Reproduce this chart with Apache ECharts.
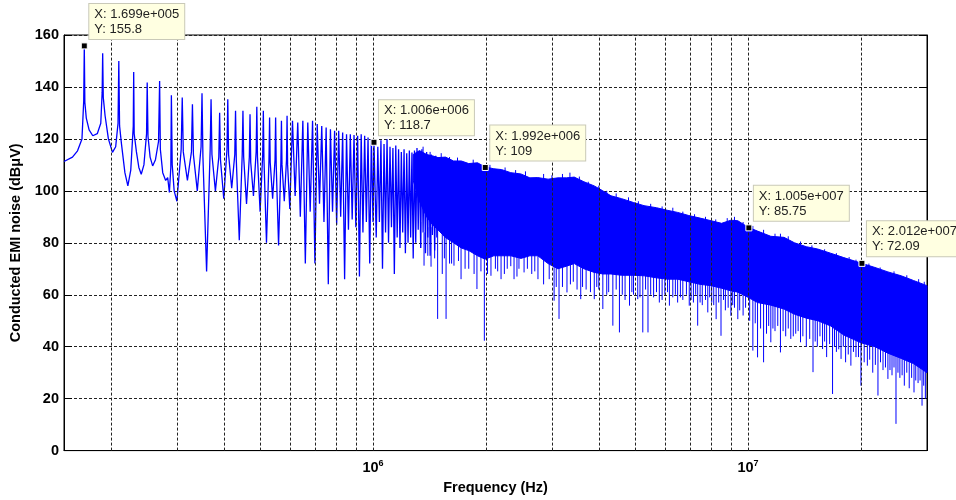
<!DOCTYPE html>
<html><head><meta charset="utf-8">
<script src="https://cdn.jsdelivr.net/npm/echarts@6/dist/echarts.min.js"></script>
<style>html,body{margin:0;padding:0;background:#fff}#c{width:956px;height:500px}</style>
</head><body><div id="c"></div>
<script>
// ---- data (frequency in Hz, level in dBuV) ----
// first resolved harmonics (with their resonance shoulders)
const lowFreq = [150000,158000,163000,167500,169300,169900,170500,172000,175000,179000,184000,188000,189600,190200,190900,193000,197000,202000,206000,209000,210000,211000,213500,218000,222000,226000,229500,230100,230800,234000,237500,241000,245000,249000,250000,251200,254500,258500,263000,268000,269800,271000,275000,280000,283500,286500,289000,290000,291500,295000];
const lowVal  = [111.3,113,115.4,120,134.6,155.8,134,128,123.5,121.2,122,126,138,153,136,129,120,114.8,117,126,150,125,118,107,101.9,108,125,145.8,122,115,109,106.4,110,122,141.7,121,113,109.6,112,119,142.3,116,107,104,105.1,99.4,109,136.8,110,100];
// harmonic peaks
const peakFreq = [310000,330000,350000,370000,390000,410000,430000,450000,470000,490000,510000,530000,550000,570000,590000,610000,630000,650000,670000,690000,710000,730000,750000,770000,790000,810000,830000,850000,870000,890000,910000,930000,950000,970000,990000,1006000,1030000,1050000,1070000,1090000,1110000,1130000,1150000,1170000,1190000,1210000,1230000,1250000,1270000,1290000,1310000,1330000,1350000,1370000,1390000,1410000,1430000,1450000,1470000,1490000];
const peakVal  = [135.9,133.3,137.6,135.3,130.1,135.3,130.8,130.8,129.5,132.4,130.8,128.2,128.2,127,128.9,127,126.3,127,126.3,127,125.7,125,124.4,123.7,123.1,123.1,122.5,121.8,121.8,121.5,121.2,121.8,121.2,120.5,120,118.7,117,119.5,118,119.9,117,116.5,117.5,116,115,116,114.5,115.5,114.8,115.5,116.5,115,116,114.5,115,113.5,114,113,113.5,112.8];
// resonance shoulders beside the first harmonics
const shoulderFreq = [308000,312000,328000,332000,348000,352000,368000,372000,388000,392000,408000,412000,428000,432000,448000,452000,468000,472000,488000,492000,508000,512000,528000,532000,548000,552000,568000,572000,588000,592000];
const shoulderVal  = [116,115,115,114,117,113,116,114,113,112,116,114,114,112,114,113,113,111,115,113,114,112,112,111,112,110,111,110,112,110];
// valleys between harmonics
const valleyFreq = [300000,320000,340000,360000,380000,400000,420000,440000,460000,480000,500000,520000,540000,560000,580000,600000,620000,640000,660000,680000,700000,720000,740000,760000,780000,800000,820000,840000,860000,880000,900000,920000,940000,960000,980000,1000000,1020000,1040000,1060000,1080000,1100000,1120000,1140000,1160000,1180000,1200000,1220000,1240000,1260000,1280000,1300000,1320000,1340000,1360000,1380000,1400000,1420000,1440000,1460000,1480000];
const valleyVal  = [96,104,100,69,100,97,101,81,95,98,92,80,97,79,96,93,98,90,72,92,72,95,88,64,92,87,90,66,85,89,86,67,84,88,72,88,82,88,70,84,80,86,68,82,78,84,76,80,82,74,80,85,78,84,76,82,75,83,77,82];
// dense (unresolved) spectrum: upper envelope and lower edge of the solid band
const bandFreq  = [1280e3,1330e3,1390e3,1440e3,1490e3,1560e3,1640e3,1720e3,1800e3,1900e3,1990e3,2100e3,2200e3,2330e3,2480e3,2620e3,2750e3,2930e3,3110e3,3280e3,3440e3,3650e3,3890e3,4100e3,4310e3,4600e3,4950e3,5280e3,5700e3,6100e3,6490e3,6950e3,7450e3,7970e3,8500e3,9000e3,9390e3,10000e3,10600e3,11500e3,12470e3,13300e3,14300e3,15340e3,16600e3,18000e3,20000e3,21800e3,23600e3,25600e3,27600e3,30000e3];
const bandTop   = [114,115.5,114,113.5,112.8,113,111.5,111.5,110.5,110.8,109.2,108.5,108.2,107,106.5,105,105.1,104.5,105,105,105.3,103.5,101.9,100,98.1,97,95.5,94.3,93.5,92.5,91.7,90.5,89.5,88.5,87.5,88.7,88.5,86,84.5,82.5,82.1,80,78.5,77.6,76,74.3,72.2,70.5,68.8,67.3,65.5,63.5];
const bandFloor = [104,96,90,87,85,82,80,78,77,75,73.7,75,75,75,74,75,75,72,70,71,72,70,68.6,68,68,67.5,67.5,67.3,66.5,66,66,65,64,63.5,62.5,61.5,61,59,57,56,54.5,52.5,51,50,48,44.5,41.5,40,37.5,35.5,33.5,30];
// deep individual notches below the dense band
const spikeFreq = [1368e3,1428e3,1487e3,1530e3,1566e3,1600e3,1644e3,1717e3,1760e3,1893e3,1981e3,2063e3,2150e3,2195e3,2280e3,2377e3,2450e3,2528e3,2650e3,2753e3,2850e3,3040e3,3133e3,3200e3,3290e3,3420e3,3580e3,3700e3,3890e3,4000e3,4100e3,4200e3,4360e3,4540e3,4700e3,4830e3,4950e3,5080e3,5240e3,5410e3,5600e3,5800e3,6000e3,6170e3,6300e3,6490e3,6700e3,6970e3,7150e3,7340e3,7550e3,7810e3,8000e3,8220e3,8470e3,8700e3,9000e3,9200e3,9390e3,9700e3,10300e3,10600e3,11000e3,11200e3,11500e3,11800e3,12200e3,12600e3,13000e3,13400e3,13800e3,14300e3,14900e3,15300e3,15800e3,16200e3,16800e3,17200e3,17700e3,18200e3,18800e3,19400e3,20000e3,20800e3,21500e3,22200e3,22900e3,23600e3,24200e3,24800e3,25400e3,26100e3,26900e3,27700e3,28400e3,29100e3,29700e3];
const spikeHi = [84,86,86,84,83,82,81,80,79,77,76,77,77,77,77,77,76,77,77,77,75,73,73,73,74,74,73,72,71,70,70,70,70,70,69,69,69,69,69,69,68,68,68,68,68,68,67,67,66,66,65,65,65,64,64,64,63,63,63,62,60,59,58,58,58,57,56,56,55,54,53,53,52,52,51,50,50,49,48,47,46,45,44,43,43,42,41,40,40,39,38,38,37,36,35,34,33];
const spikeLo = [71.2,70.8,50.7,68,50.7,72,71.2,66,70,62.2,42.3,67.3,69,66,70,66,70,68.6,68,66,64,57.7,50.7,63,60.9,65,58.3,62,58.3,62,54.5,60,48.1,45.5,58,55.8,60,58.3,45.5,45.5,59,57,60,55.8,59,57,58,55.8,57,48.1,56,53.2,57,50.6,44.2,54,51.9,55,50.6,52,38.5,35.9,34,45,41.7,46,37.8,44,43,45,41.7,40,30.2,40,39.1,36,21.8,38,35.3,34,32.7,36,25,32.7,30,21.2,31,27.6,29,10.3,28,25,24,22.4,26,17.3,20];
// shallower notches that make the ragged lower edge
const notchFreq = [1340e3,1400e3,1460e3,1550e3,1620e3,1690e3,1800e3,1860e3,1940e3,2020e3,2120e3,2240e3,2330e3,2420e3,2580e3,2700e3,2950e3,3080e3,3360e3,3500e3,3620e3,3800e3,3950e3,4250e3,4450e3,4620e3,4900e3,5150e3,5330e3,5500e3,5700e3,5900e3,6100e3,6400e3,6600e3,6850e3,7050e3,7250e3,7450e3,7700e3,7900e3,8100e3,8350e3,8600e3,8850e3,9100e3,9500e3,9850e3,10100e3,10450e3,10800e3,11350e3,11650e3,12000e3,12400e3,12800e3,13200e3,13600e3,14000e3,14600e3,15100e3,15550e3,16000e3,16500e3,17000e3,17450e3,17950e3,18500e3,19100e3,19700e3,20400e3,21100e3,21850e3,22550e3,23250e3,23900e3,24500e3,25100e3,25750e3,26500e3,27300e3,28000e3,28750e3,29400e3];
const notchHi = [88,86,87,84,82,81,79,78,77,76,77,77,77,77,77,77,74,72,73,74,72,71,70,70,70,69,69,69,69,68,68,68,68,68,67,67,66,66,65,65,65,64,64,64,63,63,62,61,60,59,58,58,57,56,56,55,54,53,53,52,52,51,50,50,49,48,47,46,45,44,43,43,42,41,40,40,39,38,38,37,36,35,34,33];
const notchLo = [78,75,74,74,72,73,70,68,69,68,70,68,71,67,70,69,66,63,64,62,63,61,63,61,62,60,61,59,62,60,61,58,61,60,59,60,58,60,57,58,59,56,57,58,55,56,54,55,50,49,47,48,47,48,46,47,44,46,44,43,42,44,42,41,40,39,40,37,38,36,34,35,33,34,32,31,32,30,29,30,28,27,27,25];
// fine spikes on the upper edge of the dense band
const hairFreq = [1360e3,1420e3,1520e3,1600e3,1680e3,1850e3,2050e3,2250e3,2400e3,2550e3,2850e3,3000e3,3200e3,3350e3,3550e3,3750e3,4000e3,4200e3,4450e3,4800e3,5100e3,5500e3,5900e3,6300e3,6700e3,7200e3,7700e3,8200e3,8800e3,9200e3,9700e3,10300e3,11000e3,11800e3,12200e3,12800e3,13800e3,14800e3,16000e3,17200e3,18600e3,19400e3,21000e3,22500e3,24500e3,26500e3,28500e3,29500e3];
const hairHi = [117,115,114.5,113,112.8,112,110,109,108,107.5,106.5,106,106.5,107,105.5,103.5,102,100,99,97.5,96,95,94,93.5,92,91,90,89,89.5,90,88,86.5,85,83.5,83.5,82.5,80.5,79,77.5,76,74.5,73.5,72,70.5,69,67.5,66,65];
const hairLo = [110,109,108,107,107,106,104,103,102,101,100,100,100,100,99,97,96,94,93,92,90,89,88,88,86,85,84,83,83,83,82,80,79,78,77,76,74,73,71,70,68,67,66,64,63,61,60,59];
// data tips
const tipFreq = [169900, 1006000, 1992000, 10050000, 20120000];
const tipVal  = [155.8, 118.7, 109, 85.75, 72.09];
const tipXText = ['1.699e+005','1.006e+006','1.992e+006','1.005e+007','2.012e+007'];
const tipYText = ['155.8','118.7','109','85.75','72.09'];
// log grid positions
const xGrid = [2e5,3e5,4e5,5e5,6e5,7e5,8e5,9e5,1e6,2e6,3e6,4e6,5e6,6e6,7e6,8e6,9e6,1e7,2e7];
const xMin = 150000, xMax = 30000000;
const yMin = 0, yMax = 160, yStep = 20;

const FONT = "'Liberation Sans', Arial, Helvetica, sans-serif";
const BLUE = '#0000ff';

const resolved = [];
lowFreq.forEach((f, i) => resolved.push([f, lowVal[i]]));
peakFreq.forEach((f, i) => resolved.push([f, peakVal[i]]));
shoulderFreq.forEach((f, i) => resolved.push([f, shoulderVal[i]]));
valleyFreq.forEach((f, i) => resolved.push([f, valleyVal[i]]));
resolved.sort((a, b) => a[0] - b[0]);

const segs = [];
spikeFreq.forEach((f, i) => segs.push([f, spikeHi[i], spikeLo[i]]));
notchFreq.forEach((f, i) => segs.push([f, notchHi[i], notchLo[i]]));
hairFreq.forEach((f, i) => segs.push([f, hairHi[i], hairLo[i]]));

const chart = echarts.init(document.getElementById('c'), null, {renderer: 'canvas'});
chart.setOption({
  animation: false,
  backgroundColor: '#fff',
  grid: {left: 64, right: 29, top: 35, bottom: 48, show: true, borderColor: '#000', borderWidth: 1, backgroundColor: '#fff'},
  xAxis: {
    type: 'log', logBase: 10, min: xMin, max: xMax,
    name: 'Frequency (Hz)', nameLocation: 'middle', nameGap: 27,
    nameTextStyle: {fontFamily: FONT, fontSize: 14.5, fontWeight: 'bold', color: '#000'},
    axisLine: {show: true, onZero: false, lineStyle: {color: '#000', width: 1}},
    axisTick: {show: false},
    splitLine: {show: false},
    minorTick: {show: false}, minorSplitLine: {show: false},
    axisLabel: {
      margin: 8, showMinLabel: true, showMaxLabel: true,
      formatter: function (v) {
        const e = Math.round(Math.log10(v));
        return Math.abs(Math.log10(v) - e) < 1e-6 ? '{b|10}{s|' + e + '}' : '';
      },
      rich: {
        b: {fontFamily: FONT, fontSize: 14.5, fontWeight: 'bold', color: '#000'},
        s: {fontFamily: FONT, fontSize: 9, fontWeight: 'bold', color: '#000', padding: [0, 0, 9, 0]}
      }
    }
  },
  yAxis: [{
    type: 'value', min: yMin, max: yMax, interval: yStep,
    name: 'Conducted EMI noise (dB\u03bcV)', nameLocation: 'middle', nameGap: 37,
    nameTextStyle: {fontFamily: FONT, fontSize: 14.5, fontWeight: 'bold', color: '#000'},
    axisLine: {show: true, lineStyle: {color: '#000', width: 1}},
    axisTick: {show: true, inside: true, length: 8, lineStyle: {color: '#000'}},
    axisLabel: {margin: 5, fontFamily: FONT, fontSize: 14.5, fontWeight: 'bold', color: '#000'},
    splitLine: {show: true, lineStyle: {color: '#222', width: 1, type: [3, 2]}}
  }, {
    type: 'value', position: 'right', min: yMin, max: yMax, interval: yStep,
    axisLine: {show: true, lineStyle: {color: '#000', width: 1}},
    axisTick: {show: true, inside: true, length: 8, lineStyle: {color: '#000'}},
    axisLabel: {show: false}, splitLine: {show: false}
  }],
  series: [
    {
      type: 'line', data: resolved, showSymbol: false, symbol: 'none', silent: true, z: 1,
      lineStyle: {opacity: 0},
      markLine: {
        silent: true, symbol: ['none', 'none'], label: {show: false}, animation: false,
        lineStyle: {color: '#222', width: 1, type: [3, 2]},
        data: xGrid.map(v => ({xAxis: v}))
      }
    },
    {
      type: 'custom', coordinateSystem: 'cartesian2d', silent: true, z: 3,
      data: [[bandFreq[0], bandTop[0]]], encode: {x: 0, y: 1},
      renderItem: function (params, api) {
        const pts = [];
        for (let i = 0; i < bandFreq.length; i++) pts.push(api.coord([bandFreq[i], bandTop[i]]));
        for (let i = bandFreq.length - 1; i >= 0; i--) pts.push(api.coord([bandFreq[i], bandFloor[i]]));
        return {type: 'polygon', shape: {points: pts}, style: {fill: BLUE, stroke: BLUE, lineWidth: 1}};
      }
    },
    {
      type: 'custom', coordinateSystem: 'cartesian2d', silent: true, z: 3,
      data: segs, encode: {x: 0, y: [1, 2]},
      renderItem: function (params, api) {
        const a = api.coord([api.value(0), api.value(1)]);
        const b = api.coord([api.value(0), api.value(2)]);
        return {type: 'line', shape: {x1: a[0], y1: a[1], x2: b[0], y2: b[1]}, style: {stroke: BLUE, lineWidth: 1}};
      }
    },
    {
      type: 'line', data: resolved, showSymbol: false, symbol: 'none', silent: true, z: 4,
      lineStyle: {color: BLUE, width: 1.3}
    },
    {
      type: 'scatter', z: 10, silent: true,
      data: tipFreq.map((f, i) => [f, tipVal[i]]),
      symbol: 'rect', symbolSize: 6,
      itemStyle: {color: '#000', borderColor: '#fff', borderWidth: 1, opacity: 1},
      label: {
        show: true, position: [8.5, -38.5], align: 'left', verticalAlign: 'top',
        formatter: p => 'X: ' + tipXText[p.dataIndex] + '\nY: ' + tipYText[p.dataIndex],
        fontFamily: FONT, fontSize: 13, lineHeight: 15, color: '#222',
        backgroundColor: '#ffffe1', borderColor: '#c9c9b8', borderWidth: 1,
        padding: [3, 5, 2, 5]
      }
    }
  ]
});
</script></body></html>
